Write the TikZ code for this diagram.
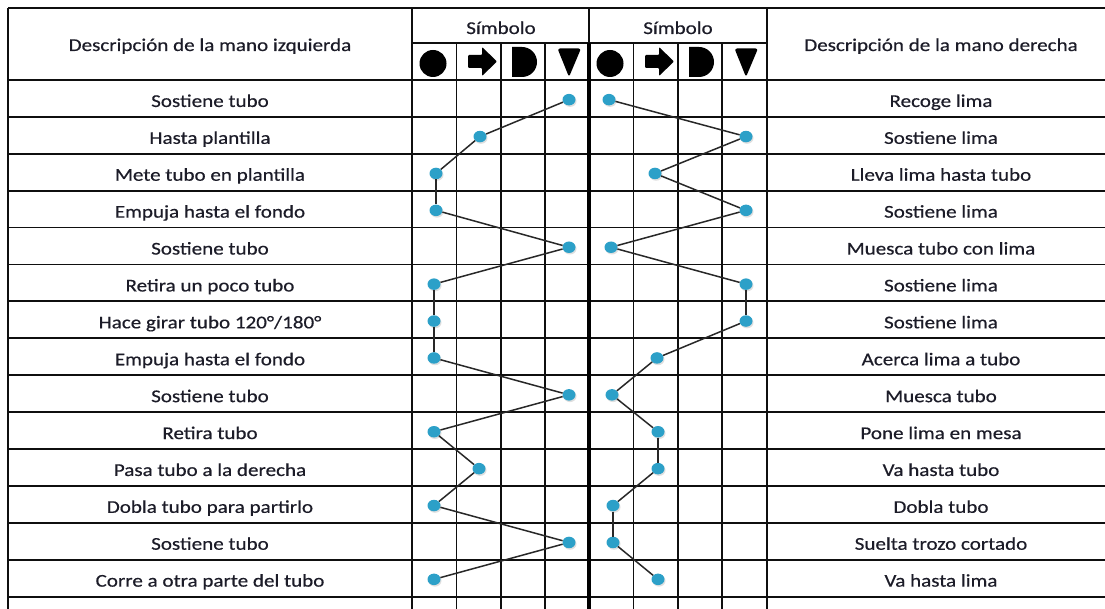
\documentclass[tikz,border=0pt]{standalone}
\usepackage{fontspec}
\setmainfont{Carlito}
\newfontfamily\tabfont{Carlito}[FakeBold=0.4]
\usepackage{graphicx}
\usetikzlibrary{shadows,shapes.geometric}
\newcommand{\wtxt}[1]{\scalebox{1.17}[1]{#1}}
\definecolor{dotc}{RGB}{44,160,200}
\definecolor{txtc}{RGB}{28,28,40}
\definecolor{linec}{RGB}{15,15,15}
\definecolor{connc}{RGB}{40,40,40}
\tikzset{
  grid/.style={draw=linec, line width=1.8pt},
  thickgrid/.style={draw=black, line width=3.8pt},
  symb/.style={fill=black},
  dotn/.style={ellipse, fill=dotc, inner sep=0pt, minimum width=13pt, minimum height=11.5pt,
    drop shadow={opacity=0.25, shadow xshift=1pt, shadow yshift=-1.5pt}},
  conn/.style={draw=connc, line width=1.5pt},
  lbl/.style={anchor=base, inner sep=0pt, text=txtc, font=\tabfont\fontsize{18}{21}\selectfont}
}
\begin{document}
\begin{tikzpicture}[x=1pt,y=-1pt]
\useasboundingbox (0,0) rectangle (1105,609);
\fill[white] (0,0) rectangle (1105,609);

% grid
\draw[grid] (8,8) -- (1105,8);
\draw[grid] (412,43) -- (767,43);
\foreach \k in {0,...,14} {\draw[grid] (8,{80+36.9*\k}) -- (1105,{80+36.9*\k});}
\foreach \xx in {8,412,767} {\draw[grid] (\xx,8) -- (\xx,609);}
\draw[grid] (589,8) -- (589,43);
\foreach \xx in {456.5,501,545,633.5,678,722} {\draw[grid] (\xx,43) -- (\xx,609);}
\draw[thickgrid] (589,43) -- (589,609);

% headers
\node[lbl] (hl) at (210,51) {\wtxt{Descripción de la mano izquierda}};
\node[lbl] (hr) at (941,51) {\wtxt{Descripción de la mano derecha}};
\node[lbl] (sl) at (501,34) {\wtxt{Símbolo}};
\node[lbl] (sr) at (678,34) {\wtxt{Símbolo}};

% symbols
\foreach \s in {0,177} {
  \begin{scope}[xshift=\s pt]
    \fill[symb] (433,63.5) circle[radius=13.5pt];
    \fill[symb, rounded corners=1pt] (468,55) -- (482,55) -- (482,47) -- (497,61.5) -- (482,76) -- (482,68) -- (468,68) -- cycle;
    \fill[symb] (512,47) -- (522,47) arc[start angle=90, end angle=-90, radius=15pt] -- (512,77) -- cycle;
    \fill[symb, rounded corners=2.5pt] (557.5,48.5) -- (581,48.5) -- (569,77) -- cycle;
  \end{scope}
}

% row texts
\foreach \t [count=\i] in {Sostiene tubo, Hasta plantilla, Mete tubo en plantilla, Empuja hasta el fondo, Sostiene tubo, Retira un poco tubo, Hace girar tubo 120°/180°, Empuja hasta el fondo, Sostiene tubo, Retira tubo, Pasa tubo a la derecha, Dobla tubo para partirlo, Sostiene tubo, Corre a otra parte del tubo}
  {\node[lbl] (tl\i) at (210,{80+36.9*(\i-0.5)+8.5}) {\wtxt{\t}};}
\foreach \t [count=\i] in {Recoge lima, Sostiene lima, Lleva lima hasta tubo, Sostiene lima, Muesca tubo con lima, Sostiene lima, Sostiene lima, Acerca lima a tubo, Muesca tubo, Pone lima en mesa, Va hasta tubo, Dobla tubo, Suelta trozo cortado, Va hasta lima}
  {\node[lbl] (tr\i) at (941,{80+36.9*(\i-0.5)+8.5}) {\wtxt{\t}};}

% dots
\foreach \xx [count=\i] in {569,480,436,436,569,434,434,434,569,434,479,434,569,434}
  {\node[dotn] (L\i) at (\xx,{80+36.9*(\i-0.5)+1.2}) {};}
\foreach \xx [count=\i] in {609,746,655,746,611,746,746,657,612,658,658,613,613,658}
  {\node[dotn] (R\i) at (\xx,{80+36.9*(\i-0.5)+1.2}) {};}

% connectors
\foreach \i [evaluate=\i as \j using int(\i+1)] in {1,...,13} {
  \draw[conn] (L\i) -- (L\j);
  \draw[conn] (R\i) -- (R\j);
}
\end{tikzpicture}
\end{document}
